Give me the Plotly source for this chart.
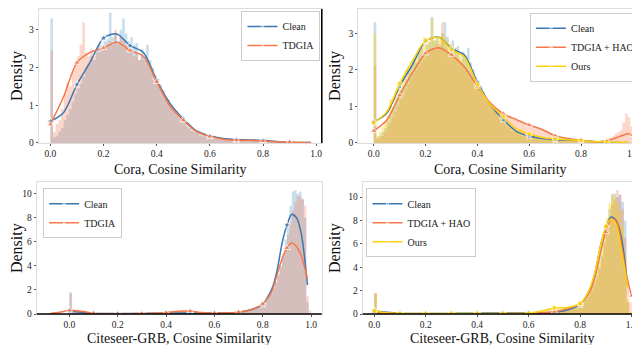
import plotly.graph_objects as go

# histogram bin width (density histograms, bins start at 0.0)
BIN = 0.01

# ---- Cora, top panels ----
cora_clean_hist = [
    3.30, 0.15, 0.20, 0.30, 0.40, 0.60, 0.75, 0.90, 1.10, 1.30,
    1.45, 1.60, 1.75, 2.00, 2.10, 2.30, 2.20, 2.50, 2.60, 2.45,
    2.70, 2.75, 3.45, 2.80, 2.90, 2.70, 3.00, 3.30, 2.90, 2.70,
    2.80, 2.60, 2.65, 2.20, 2.50, 2.30, 2.60, 2.20, 2.00, 1.80,
    1.70, 1.55, 1.40, 1.20, 1.15, 1.00, 0.90, 0.85, 0.70, 0.65,
    0.55, 0.45, 0.40, 0.33, 0.30, 0.28, 0.22, 0.20, 0.18, 0.15,
    0.14, 0.12, 0.11, 0.10, 0.10, 0.09, 0.09, 0.08, 0.08, 0.08,
    0.07, 0.07, 0.07, 0.06, 0.06, 0.06, 0.06, 0.06, 0.07, 0.09,
    0.06, 0.05, 0.04, 0.04, 0.03, 0.03, 0.03, 0.02, 0.02, 0.02,
    0.02, 0.01, 0.01, 0.01, 0.01, 0.01, 0.01, 0.01, 0.01,
]
cora_tdgia_hist = [
    2.45, 0.30, 0.50, 0.60, 0.90, 1.30, 1.60, 1.50, 1.90, 2.10,
    2.30, 2.60, 3.20, 2.40, 2.30, 2.50, 2.30, 2.40, 2.40, 2.60,
    2.50, 2.60, 2.70, 2.60, 3.00, 2.60, 2.80, 2.70, 2.60, 2.40,
    2.50, 2.30, 2.40, 2.20, 2.30, 2.20, 2.10, 2.00, 1.90, 1.70,
    1.60, 1.45, 1.30, 1.15, 1.05, 0.95, 0.85, 0.75, 0.65, 0.60,
    0.50, 0.42, 0.38, 0.32, 0.28, 0.25, 0.20, 0.18, 0.16, 0.14,
    0.13, 0.12, 0.10, 0.10, 0.09, 0.09, 0.08, 0.08, 0.07, 0.07,
    0.07, 0.06, 0.06, 0.06, 0.05, 0.05, 0.05, 0.05, 0.05, 0.04,
    0.04, 0.04, 0.04, 0.03, 0.03, 0.03, 0.03, 0.02, 0.02, 0.02,
    0.02, 0.01, 0.01, 0.01, 0.01, 0.01, 0.01,
]
cora_hao_hist = [
    2.10, 0.10, 0.15, 0.20, 0.30, 0.45, 0.55, 0.70, 0.85, 1.00,
    1.20, 1.30, 1.45, 1.60, 1.75, 1.90, 2.00, 2.10, 2.20, 2.30,
    2.40, 2.50, 2.60, 2.55, 2.70, 2.60, 3.30, 2.60, 2.50, 2.45,
    2.40, 2.30, 2.25, 2.20, 2.10, 2.00, 1.90, 1.80, 1.70, 1.60,
    1.50, 1.40, 1.30, 1.20, 1.10, 1.05, 1.00, 0.95, 0.90, 0.85,
    0.80, 0.75, 0.72, 0.68, 0.65, 0.60, 0.58, 0.55, 0.52, 0.50,
    0.48, 0.45, 0.42, 0.40, 0.37, 0.35, 0.32, 0.30, 0.26, 0.22,
    0.20, 0.18, 0.16, 0.14, 0.12, 0.11, 0.10, 0.09, 0.08, 0.07,
    0.06, 0.05, 0.05, 0.04, 0.04, 0.04, 0.05, 0.06, 0.08, 0.10,
    0.12, 0.15, 0.20, 0.25, 0.30, 0.35, 0.55, 0.80, 0.70, 0.45,
]
cora_ours_hist = [
    3.00, 0.20, 0.30, 0.45, 0.60, 0.75, 1.20, 1.00, 1.30, 1.50,
    1.70, 1.80, 2.00, 2.10, 2.20, 2.30, 2.40, 2.50, 2.60, 2.90,
    2.70, 2.80, 3.40, 2.80, 2.90, 2.80, 3.00, 2.90, 2.80, 2.70,
    2.70, 2.60, 2.50, 2.40, 2.30, 2.40, 2.20, 2.00, 1.90, 1.75,
    1.60, 1.45, 1.30, 1.20, 1.10, 1.00, 0.90, 0.80, 0.75, 0.70,
    0.62, 0.55, 0.50, 0.45, 0.40, 0.35, 0.32, 0.30, 0.27, 0.24,
    0.22, 0.20, 0.18, 0.16, 0.15, 0.14, 0.13, 0.12, 0.11, 0.10,
    0.10, 0.09, 0.09, 0.08, 0.08, 0.07, 0.07, 0.07, 0.06, 0.06,
    0.06, 0.05, 0.05, 0.05, 0.04, 0.04, 0.04, 0.03, 0.03, 0.03,
    0.03, 0.02, 0.02, 0.02, 0.02, 0.02, 0.01, 0.01, 0.01, 0.01,
]

# KDE curves (Cora)
cora_kde_x = [0.00, 0.05, 0.10, 0.15, 0.20, 0.25, 0.30, 0.35, 0.40, 0.45, 0.50,
              0.55, 0.60, 0.65, 0.70, 0.75, 0.80, 0.85, 0.90, 0.95, 0.98]
cora_clean_kde = [0.57, 0.81, 1.55, 2.15, 2.78, 2.89, 2.58, 2.40, 1.66, 1.05, 0.64,
                  0.32, 0.19, 0.12, 0.09, 0.08, 0.07, 0.04, 0.02, 0.01, 0.01]
cora_tdgia_kde = [0.49, 1.23, 2.13, 2.40, 2.52, 2.67, 2.45, 2.30, 1.62, 0.98, 0.60,
                  0.30, 0.17, 0.10, 0.07, 0.07, 0.05, 0.03, 0.02, 0.01, 0.01]
cora_ours_kde = [0.55, 0.85, 1.62, 2.25, 2.80, 2.88, 2.55, 2.35, 1.60, 1.05, 0.72,
                 0.40, 0.25, 0.15, 0.11, 0.09, 0.07, 0.04, 0.03, 0.02, 0.02]
cora_hao_x = [0.00, 0.05, 0.10, 0.15, 0.20, 0.25, 0.30, 0.35, 0.40, 0.45, 0.50,
              0.55, 0.60, 0.65, 0.70, 0.75, 0.80, 0.85, 0.90, 0.95, 0.98, 1.00]
cora_hao_kde = [0.33, 0.62, 1.30, 1.92, 2.45, 2.60, 2.41, 2.08, 1.54, 1.10, 0.80,
                0.64, 0.49, 0.37, 0.20, 0.12, 0.07, 0.03, 0.06, 0.18, 0.25, 0.22]

# ---- Citeseer-GRB, bottom panels ----
cite_clean_hist = [
    1.80, 0.25, 0.20, 0.15, 0.10, 0.08, 0.06, 0.05, 0.04, 0.04,
    0.03, 0.03, 0.03, 0.03, 0.03, 0.03, 0.03, 0.03, 0.03, 0.03,
    0.03, 0.03, 0.03, 0.03, 0.03, 0.03, 0.03, 0.03, 0.03, 0.03,
    0.03, 0.04, 0.04, 0.04, 0.04, 0.05, 0.05, 0.05, 0.05, 0.05,
    0.05, 0.05, 0.05, 0.05, 0.05, 0.05, 0.05, 0.05, 0.05, 0.05,
    0.05, 0.05, 0.05, 0.05, 0.05, 0.05, 0.06, 0.06, 0.07, 0.08,
    0.09, 0.10, 0.10, 0.10, 0.10, 0.10, 0.10, 0.10, 0.12, 0.14,
    0.15, 0.18, 0.20, 0.25, 0.30, 0.35, 0.45, 0.55, 0.65, 0.80,
    1.00, 1.20, 1.50, 1.80, 2.20, 2.70, 3.30, 4.00, 5.00, 6.20,
    7.50, 9.00, 10.20, 10.30, 10.00, 10.20, 9.60, 8.00, 1.00, 0.00,
]
cite_tdgia_hist = [
    1.70, 0.35, 0.30, 0.25, 0.15, 0.10, 0.08, 0.06, 0.05, 0.04,
    0.03, 0.03, 0.03, 0.03, 0.03, 0.03, 0.03, 0.03, 0.03, 0.03,
    0.03, 0.03, 0.03, 0.03, 0.03, 0.03, 0.03, 0.03, 0.03, 0.03,
    0.03, 0.03, 0.04, 0.04, 0.05, 0.05, 0.06, 0.07, 0.08, 0.09,
    0.10, 0.12, 0.15, 0.18, 0.22, 0.25, 0.28, 0.30, 0.30, 0.28,
    0.25, 0.22, 0.18, 0.15, 0.12, 0.10, 0.09, 0.08, 0.08, 0.08,
    0.08, 0.08, 0.08, 0.09, 0.10, 0.10, 0.11, 0.12, 0.13, 0.14,
    0.15, 0.18, 0.22, 0.26, 0.30, 0.35, 0.42, 0.50, 0.60, 0.75,
    0.90, 1.10, 1.40, 1.70, 2.10, 2.60, 3.20, 3.90, 4.70, 5.60,
    6.60, 7.60, 8.60, 9.30, 9.80, 9.80, 9.50, 9.00, 1.50, 0.30,
]
cite_hao_hist = [
    1.75, 0.20, 0.15, 0.10, 0.08, 0.06, 0.05, 0.04, 0.04, 0.03,
    0.03, 0.03, 0.03, 0.03, 0.03, 0.03, 0.03, 0.03, 0.03, 0.03,
    0.03, 0.03, 0.03, 0.03, 0.03, 0.03, 0.03, 0.03, 0.03, 0.03,
    0.03, 0.03, 0.03, 0.03, 0.03, 0.03, 0.03, 0.03, 0.03, 0.03,
    0.03, 0.03, 0.03, 0.03, 0.03, 0.03, 0.03, 0.03, 0.03, 0.03,
    0.03, 0.03, 0.03, 0.03, 0.03, 0.03, 0.04, 0.04, 0.04, 0.05,
    0.05, 0.05, 0.06, 0.06, 0.07, 0.07, 0.08, 0.08, 0.09, 0.09,
    0.10, 0.12, 0.15, 0.20, 0.25, 0.30, 0.38, 0.45, 0.55, 0.65,
    0.80, 1.00, 1.20, 1.50, 1.90, 2.40, 3.00, 3.80, 4.80, 5.90,
    7.00, 8.20, 9.30, 9.80, 10.60, 10.20, 9.00, 6.50, 3.00, 1.00,
]
cite_ours_hist = [
    1.80, 0.30, 0.20, 0.15, 0.10, 0.08, 0.06, 0.05, 0.05, 0.05,
    0.05, 0.05, 0.05, 0.05, 0.05, 0.05, 0.05, 0.05, 0.05, 0.05,
    0.05, 0.05, 0.05, 0.05, 0.05, 0.05, 0.05, 0.05, 0.05, 0.05,
    0.05, 0.05, 0.05, 0.05, 0.05, 0.05, 0.05, 0.05, 0.05, 0.05,
    0.05, 0.05, 0.05, 0.05, 0.05, 0.05, 0.05, 0.05, 0.05, 0.05,
    0.05, 0.05, 0.05, 0.05, 0.05, 0.05, 0.05, 0.05, 0.05, 0.05,
    0.06, 0.07, 0.08, 0.10, 0.15, 0.25, 0.35, 0.45, 0.50, 0.50,
    0.50, 0.50, 0.45, 0.45, 0.40, 0.40, 0.45, 0.50, 0.60, 0.70,
    0.90, 1.10, 1.40, 1.80, 2.30, 2.90, 3.60, 4.50, 5.60, 6.80,
    8.20, 9.50, 10.30, 10.00, 9.50, 8.80, 7.50, 5.00, 1.20, 0.20,
]

# KDE curves (Citeseer-GRB)
cite_kde_x = [0.00, 0.05, 0.10, 0.15, 0.20, 0.25, 0.30, 0.35, 0.40, 0.45, 0.50, 0.55,
              0.60, 0.65, 0.70, 0.75, 0.80, 0.82, 0.84, 0.86, 0.88, 0.90, 0.92,
              0.94, 0.96, 0.985]
cite_clean_kde = [0.26, 0.15, 0.05, 0.04, 0.04, 0.04, 0.05, 0.06, 0.07, 0.08, 0.08, 0.08,
                  0.08, 0.09, 0.15, 0.35, 0.80, 1.40, 2.20, 3.70, 5.90, 7.40, 8.30,
                  8.00, 6.60, 2.40]
cite_ours_kde = [0.28, 0.10, 0.05, 0.04, 0.04, 0.04, 0.04, 0.05, 0.05, 0.05, 0.05, 0.05,
                 0.06, 0.25, 0.52, 0.55, 0.90, 1.40, 2.30, 3.80, 5.90, 7.50, 8.10,
                 7.60, 5.50, 2.30]
cite_tdgia_x = [-0.08, -0.04, 0.00, 0.03, 0.06, 0.10, 0.15, 0.20, 0.25, 0.30, 0.35,
                0.40, 0.45, 0.50, 0.55, 0.60, 0.65, 0.70, 0.75, 0.80, 0.82, 0.84,
                0.86, 0.88, 0.90, 0.92, 0.94, 0.96, 0.985]
cite_tdgia_kde = [0.05, 0.15, 0.30, 0.28, 0.20, 0.07, 0.03, 0.03, 0.03, 0.04, 0.06,
                  0.12, 0.22, 0.24, 0.12, 0.08, 0.08, 0.15, 0.35, 0.85, 1.30, 2.00,
                  3.30, 4.60, 5.50, 5.90, 5.60, 4.80, 2.90]
cite_hao_x = [0.00, 0.05, 0.10, 0.15, 0.20, 0.25, 0.30, 0.35, 0.40, 0.45, 0.50, 0.55,
              0.60, 0.65, 0.70, 0.75, 0.80, 0.82, 0.84, 0.86, 0.88, 0.90, 0.92,
              0.94, 0.96, 0.98, 1.00]
cite_hao_kde = [0.15, 0.08, 0.03, 0.03, 0.03, 0.03, 0.03, 0.03, 0.03, 0.03, 0.03, 0.04,
                0.06, 0.10, 0.20, 0.45, 0.85, 1.30, 2.00, 3.30, 5.30, 7.00, 8.10,
                8.00, 6.00, 3.30, 1.55]

x_ticks = [0.0, 0.2, 0.4, 0.6, 0.8, 1.0]
x_tick_labels = ["0.0", "0.2", "0.4", "0.6", "0.8", "1.0"]

BLUE = "#3a76b0"
ORANGE = "#f5774a"
YELLOW = "#ffd20a"
HB = "rgba(31,119,180,0.24)"
HO = "rgba(245,110,60,0.28)"
HY = "rgba(255,205,0,0.38)"
FONT = "Liberation Serif"

fig = go.Figure()


def hist(h, color, xa, ya):
    # step outline of the binned densities, filled down to zero
    edges = [round(i * BIN, 4) for i in range(len(h) + 1)]
    fig.add_trace(go.Scatter(x=edges, y=h + [h[-1]], mode="lines", line=dict(width=0, shape="hv"),
                             fill="tozeroy", fillcolor=color, xaxis=xa, yaxis=ya,
                             showlegend=False, hoverinfo="skip"))


def kde(x, y, name, color, symbol, xa, ya, legend):
    sizes = [6 if abs(v * 10 - round(v * 10)) < 1e-6 else 0 for v in x]
    fig.add_trace(go.Scatter(x=x, y=y, mode="lines+markers", name=name,
                             line=dict(color=color, width=1.5, shape="spline", smoothing=0.8),
                             marker=dict(symbol=symbol, size=sizes, color=color),
                             xaxis=xa, yaxis=ya, legend=legend))


# panel 1
hist(cora_clean_hist, HB, "x", "y")
hist(cora_tdgia_hist, HO, "x", "y")
kde(cora_kde_x, cora_clean_kde, "Clean", BLUE, "star", "x", "y", "legend")
kde(cora_kde_x, cora_tdgia_kde, "TDGIA", ORANGE, "triangle-up", "x", "y", "legend")
# panel 2
hist(cora_clean_hist, HB, "x2", "y2")
hist(cora_hao_hist, HO, "x2", "y2")
hist(cora_ours_hist, HY, "x2", "y2")
kde(cora_kde_x, cora_clean_kde, "Clean", BLUE, "star", "x2", "y2", "legend2")
kde(cora_hao_x, cora_hao_kde, "TDGIA + HAO", ORANGE, "triangle-up", "x2", "y2", "legend2")
kde(cora_kde_x, cora_ours_kde, "Ours", YELLOW, "pentagon", "x2", "y2", "legend2")
# panel 3
hist(cite_clean_hist, HB, "x3", "y3")
hist(cite_tdgia_hist, HO, "x3", "y3")
kde(cite_kde_x, cite_clean_kde, "Clean", BLUE, "star", "x3", "y3", "legend3")
kde(cite_tdgia_x, cite_tdgia_kde, "TDGIA", ORANGE, "triangle-up", "x3", "y3", "legend3")
# panel 4
hist(cite_clean_hist, HB, "x4", "y4")
hist(cite_hao_hist, HO, "x4", "y4")
hist(cite_ours_hist, HY, "x4", "y4")
kde(cite_kde_x, cite_clean_kde, "Clean", BLUE, "star", "x4", "y4", "legend4")
kde(cite_hao_x, cite_hao_kde, "TDGIA + HAO", ORANGE, "triangle-up", "x4", "y4", "legend4")
kde(cite_kde_x, cite_ours_kde, "Ours", YELLOW, "pentagon", "x4", "y4", "legend4")


def xax(domain, rng, anchor):
    return dict(domain=domain, range=rng, anchor=anchor, tickvals=x_ticks, ticktext=x_tick_labels,
                showline=True, linecolor="#dddddd", mirror=True, ticks="outside", ticklen=2,
                tickcolor="#555", showgrid=False, zeroline=False,
                tickfont=dict(family=FONT, size=9.5, color="#222"))


def yax(domain, rng, anchor, dtick):
    return dict(domain=domain, range=rng, anchor=anchor, dtick=dtick, showline=True,
                linecolor="#dddddd", mirror=True, ticks="outside", ticklen=2, tickcolor="#555",
                showgrid=False, zeroline=False, tickfont=dict(family=FONT, size=9.5, color="#222"),
                title=dict(text="Density", standoff=3, font=dict(family=FONT, size=16, color="#111")))


def leg(x, y, xanchor):
    return dict(x=x, y=y, xanchor=xanchor, yanchor="top", bgcolor="rgba(255,255,255,0.85)",
                bordercolor="#cccccc", borderwidth=1, itemwidth=30, tracegroupgap=0,
                font=dict(family=FONT, size=10, color="#222"))


def xtitle(text, xc, yc):
    return dict(text=text, x=xc, y=yc, xref="paper", yref="paper", xanchor="center",
                yanchor="middle", showarrow=False, borderpad=0,
                font=dict(family=FONT, size=14, color="#111"))


top = [0.603, 0.997]
bot = [0.1, 0.487]
fig.update_layout(
    width=640, height=345, margin=dict(l=0, r=0, t=0, b=0),
    paper_bgcolor="white", plot_bgcolor="white",
    xaxis=xax([0.048, 0.491], [-0.044, 1.021], "y"),
    yaxis=yax(top, [0, 3.55], "x", 1),
    xaxis2=xax([0.548, 0.992], [-0.06, 1.035], "y2"),
    yaxis2=yax(top, [0, 3.66], "x2", 1),
    xaxis3=xax([0.045, 0.491], [-0.135, 1.044], "y3"),
    yaxis3=yax(bot, [0, 10.95], "x3", 2),
    xaxis4=xax([0.555, 0.992], [-0.045, 1.04], "y4"),
    yaxis4=yax(bot, [0, 11.25], "x4", 2),
    legend=leg(0.489, 0.991, "right"),
    legend2=leg(0.989, 0.986, "right"),
    legend3=leg(0.055, 0.470, "left"),
    legend4=leg(0.561, 0.470, "left"),
    annotations=[
        xtitle("Cora, Cosine Similarity", 0.27, 0.525),
        xtitle("Cora, Cosine Similarity", 0.77, 0.525),
        xtitle("Citeseer-GRB, Cosine Similarity", 0.268, 0.028),
        xtitle("Citeseer-GRB, Cosine Similarity", 0.773, 0.028),
    ],
    shapes=[
        dict(type="line", xref="x domain", yref="y domain", x0=1, x1=1, y0=0, y1=1,
             line=dict(color="black", width=1.5)),
        dict(type="line", xref="x2 domain", yref="y2 domain", x0=1, x1=1, y0=0, y1=1,
             line=dict(color="black", width=1.5)),
        dict(type="line", xref="x3 domain", yref="y3 domain", x0=0, x1=1, y0=0, y1=0,
             line=dict(color="black", width=1.5)),
        dict(type="line", xref="x4 domain", yref="y4 domain", x0=0, x1=1, y0=0, y1=0,
             line=dict(color="black", width=1.5)),
    ],
)

fig.write_html("out.html")
